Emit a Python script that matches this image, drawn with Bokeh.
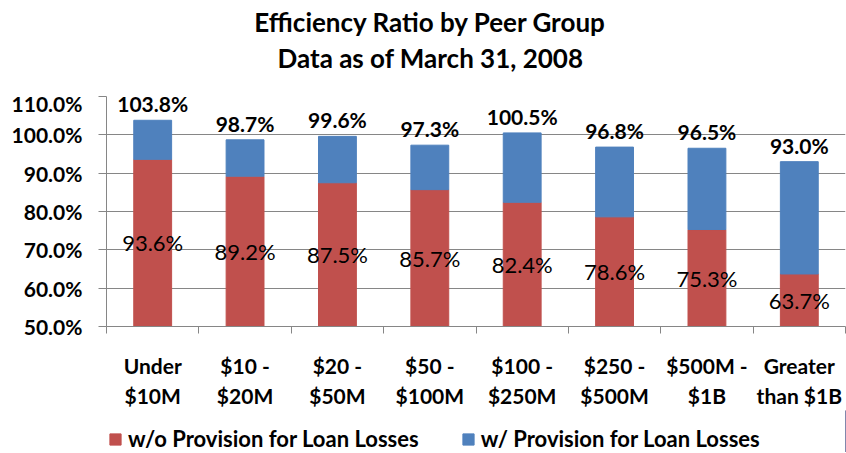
from bokeh.plotting import figure
from bokeh.layouts import column
from bokeh.models import (ColumnDataSource, FixedTicker, PrintfTickFormatter, Range1d,
                          Legend, LegendItem)
from bokeh.core.properties import value
from bokeh.embed import file_html
from bokeh.resources import INLINE

title_lines = ["Efficiency Ratio by Peer Group", "Data as of March 31, 2008"]
categories = ["Under\n$10M", "$10 -\n$20M", "$20 -\n$50M", "$50 -\n$100M",
              "$100 -\n$250M", "$250 -\n$500M", "$500M -\n$1B", "Greater\nthan $1B"]
without_provision = [93.6, 89.2, 87.5, 85.7, 82.4, 78.6, 75.3, 63.7]
with_provision = [103.8, 98.7, 99.6, 97.3, 100.5, 96.8, 96.5, 93.0]
y_ticks = [50, 60, 70, 80, 90, 100, 110]
series_names = ["w/o Provision for Loan Losses", "w/ Provision for Loan Losses"]

RED = "#C0504D"
BLUE = "#4F81BD"
GRID = "#868686"
FONT = "Lato"
W = 846
LEFT = 106
RIGHT = 845

# ---- title strip (frame aligned with the chart frame in the column) ----
ts = figure(width=W, height=90, output_backend="svg", toolbar_location=None,
            x_range=Range1d(LEFT, RIGHT), y_range=Range1d(0, 90),
            min_border_left=LEFT, min_border_right=W - RIGHT, min_border_top=0,
            min_border_bottom=0)
ts.axis.visible = False
ts.grid.visible = False
ts.outline_line_color = None
ts.text(x=[430, 430], y=[69, 33], text=title_lines, text_align="center",
        text_baseline="middle", text_font=value(FONT), text_font_style="bold",
        text_font_size="26px", text_color="black")

# ---- main chart ----
n = len(categories)
xs = [i + 0.5 for i in range(n)]
src = ColumnDataSource(dict(
    x=xs,
    base=[50] * n,
    red=without_provision,
    total=with_provision,
    red_mid=[(50 + v) / 2 for v in without_provision],
    red_lbl=[f"{v:.1f}%" for v in without_provision],
    tot_lbl=[f"{v:.1f}%" for v in with_provision],
))

p = figure(width=W, height=320, output_backend="svg", toolbar_location=None,
           x_range=Range1d(0, n), y_range=Range1d(50, 110),
           min_border_left=LEFT, min_border_right=W - RIGHT, min_border_top=6,
           min_border_bottom=83)
p.outline_line_color = None
p.background_fill_color = "white"

p.vbar(x="x", bottom="base", top="red", width=0.41, color=RED, source=src)
p.vbar(x="x", bottom="red", top="total", width=0.41, color=BLUE, source=src)

p.text(x="x", y="red_mid", text="red_lbl", source=src, text_align="center",
       text_baseline="middle", text_font=value(FONT), text_font_size="22px",
       text_color="black")
p.text(x="x", y="total", text="tot_lbl", source=src, text_align="center",
       text_baseline="bottom", y_offset=-4, text_font=value(FONT), text_font_size="21px",
       text_font_style="bold", text_color="black")

# y axis
p.yaxis.ticker = FixedTicker(ticks=y_ticks)
p.yaxis.formatter = PrintfTickFormatter(format="%.1f%%")
p.yaxis.major_label_text_font = FONT
p.yaxis.major_label_text_font_style = "bold"
p.yaxis.major_label_text_font_size = "21px"
p.yaxis.major_label_text_color = "black"
p.yaxis.axis_line_color = GRID
p.yaxis.major_tick_line_color = GRID
p.yaxis.major_tick_out = 8
p.yaxis.major_tick_in = 0
p.yaxis.minor_tick_line_color = None
p.yaxis.major_label_standoff = 16

# x axis
p.xaxis.ticker = FixedTicker(ticks=xs, minor_ticks=list(range(n + 1)))
p.xaxis.major_label_overrides = {x: c for x, c in zip(xs, categories)}
p.xaxis.major_tick_line_color = None
p.xaxis.minor_tick_line_color = GRID
p.xaxis.minor_tick_out = 7
p.xaxis.minor_tick_in = 0
p.xaxis.axis_line_color = GRID
p.xaxis.major_label_text_font = FONT
p.xaxis.major_label_text_font_style = "bold"
p.xaxis.major_label_text_font_size = "21px"
p.xaxis.major_label_text_color = "black"
p.xaxis.major_label_standoff = 19

p.xgrid.grid_line_color = None
p.ygrid.grid_line_color = GRID
p.ygrid.grid_line_width = 1

# ---- legend strip ----
lg = figure(width=W, height=42, output_backend="svg", toolbar_location=None,
            x_range=Range1d(0, 1), y_range=Range1d(0, 1),
            min_border_left=LEFT, min_border_right=W - RIGHT, min_border_top=0,
            min_border_bottom=0)
lg.axis.visible = False
lg.grid.visible = False
lg.outline_line_color = None
lr = lg.vbar(x=[5], top=[5], width=0.1, color=RED)
lb = lg.vbar(x=[5], top=[5], width=0.1, color=BLUE)
legend = Legend(items=[LegendItem(label=series_names[0], renderers=[lr]),
                       LegendItem(label=series_names[1], renderers=[lb])],
                orientation="horizontal", location=(2, 0),
                label_text_font=FONT, label_text_font_style="bold",
                label_text_font_size="22px", label_text_color="black",
                glyph_width=14, glyph_height=14, label_standoff=6,
                spacing=42, border_line_color=None, background_fill_alpha=0,
                margin=0, padding=0)
lg.add_layout(legend)

layout = column(ts, p, lg, spacing=0)
open("out.html", "w").write(file_html(layout, INLINE))
